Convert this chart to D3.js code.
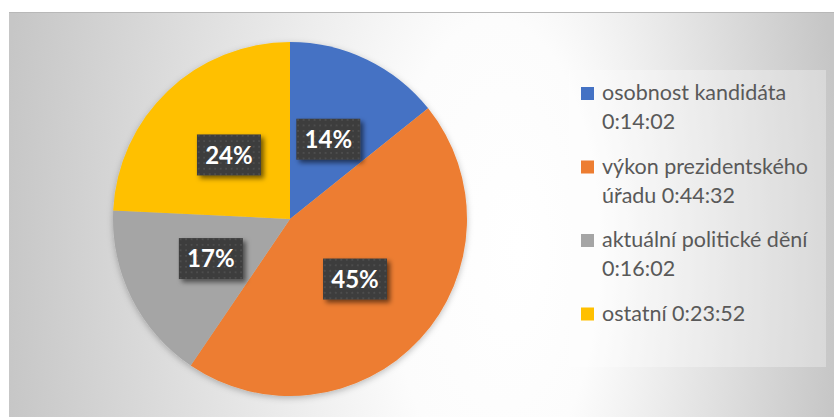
<!DOCTYPE html>
<html>
<head>
  <meta charset="utf-8">
  <style>
    body { margin: 0; background: white; }
    .legend-text { font-family: Lato, "Open Sans", sans-serif; font-size: 21.5px; fill: #595959; }
    .slice-label { font-family: Lato, "Open Sans", sans-serif; font-size: 24px; font-weight: bold; fill: white; }
  </style>
  <script src="https://d3js.org/d3.v7.min.js"></script>
</head>
<body>
  <div id="chart"></div>
  <script>
    // data
    const categories = ["osobnost kandidáta", "výkon prezidentského", "aktuální politické dění", "ostatní"];
    const durations = ["0:14:02", "0:44:32", "0:16:02", "0:23:52"];
    const seconds = [842, 2672, 962, 1432];
    const percentLabels = ["14%", "45%", "17%", "24%"];
    const colors = ["#4472C4", "#ED7D31", "#A5A5A5", "#FFC000"];
    // legend lines (text wrap as in the original)
    const legendLines = [
      ["osobnost kandidáta", "0:14:02"],
      ["výkon prezidentského", "úřadu 0:44:32"],
      ["aktuální politické dění", "0:16:02"],
      ["ostatní 0:23:52"]
    ];

    const width = 834;
    const height = 417;
    const area = { x: 9, y: 12, w: 825, h: 405 };
    const cx = 290, cy = 219, radius = 177;

    const svg = d3.select("#chart")
      .append("svg")
      .attr("width", width)
      .attr("height", height);

    const defs = svg.append("defs");

    // background gradient, white band in the middle, gray to the sides
    const bg = defs.append("radialGradient")
      .attr("id", "bgGrad")
      .attr("gradientUnits", "userSpaceOnUse")
      .attr("cx", 420).attr("cy", 250).attr("r", 420)
      .attr("fx", 520).attr("fy", 250)
      .attr("gradientTransform", "translate(0,250) scale(1,2.2) translate(0,-250)");
    bg.append("stop").attr("offset", 0).attr("stop-color", "#ffffff");
    bg.append("stop").attr("offset", 0.25).attr("stop-color", "#fcfcfc");
    bg.append("stop").attr("offset", 1).attr("stop-color", "#c6c6c6");

    // dotted texture for the label boxes
    const pat = defs.append("pattern")
      .attr("id", "dots")
      .attr("patternUnits", "userSpaceOnUse")
      .attr("width", 5.5).attr("height", 5.5);
    pat.append("rect").attr("width", 5.5).attr("height", 5.5).attr("fill", "#3d3d3d");
    pat.append("rect").attr("x", 2).attr("y", 2).attr("width", 1.5).attr("height", 1.5).attr("fill", "#545454");

    const shadow = defs.append("filter").attr("id", "boxShadow")
      .attr("x", "-30%").attr("y", "-30%").attr("width", "160%").attr("height", "160%");
    shadow.append("feDropShadow")
      .attr("dx", 3).attr("dy", 3).attr("stdDeviation", 2.5)
      .attr("flood-color", "#000").attr("flood-opacity", 0.55);

    const pieShadow = defs.append("filter").attr("id", "pieShadow")
      .attr("x", "-10%").attr("y", "-10%").attr("width", "120%").attr("height", "120%");
    pieShadow.append("feDropShadow")
      .attr("dx", 0).attr("dy", 2).attr("stdDeviation", 3)
      .attr("flood-color", "#000").attr("flood-opacity", 0.25);

    svg.append("rect")
      .attr("x", area.x).attr("y", area.y)
      .attr("width", area.w).attr("height", area.h)
      .attr("fill", "url(#bgGrad)");

    svg.append("line")
      .attr("x1", area.x).attr("x2", area.x + area.w)
      .attr("y1", area.y + 0.5).attr("y2", area.y + 0.5)
      .attr("stroke", "#b8b8b8");

    // pie
    const pie = d3.pie().sort(null).value(d => d);
    const arcs = pie(seconds);
    const arc = d3.arc().innerRadius(0).outerRadius(radius);

    const g = svg.append("g").attr("transform", `translate(${cx},${cy})`);

    g.append("g")
      .attr("filter", "url(#pieShadow)")
      .selectAll("path")
      .data(arcs)
      .enter()
      .append("path")
      .attr("d", arc)
      .attr("fill", (d, i) => colors[i]);

    const labels = g.selectAll(".lbl")
      .data(arcs)
      .enter()
      .append("g")
      .attr("class", "lbl")
      .attr("transform", d => `translate(${arc.centroid(d)})`);

    labels.append("rect")
      .attr("x", -32).attr("y", -20.5)
      .attr("width", 64).attr("height", 41)
      .attr("fill", "url(#dots)")
      .attr("filter", "url(#boxShadow)");

    labels.append("text")
      .attr("class", "slice-label")
      .attr("text-anchor", "middle")
      .attr("dy", "0.36em")
      .text((d, i) => percentLabels[i]);

    // legend
    const legend = svg.append("g");
    legend.append("rect")
      .attr("x", 569).attr("y", 70)
      .attr("width", 257).attr("height", 297)
      .attr("fill", "#ffffff").attr("fill-opacity", 0.3);

    const baseY = d3.scaleLinear().domain([0, 1]).range([100, 173.5]);
    const items = legend.selectAll(".item")
      .data(legendLines)
      .enter()
      .append("g")
      .attr("class", "item")
      .attr("transform", (d, i) => `translate(0,${baseY(i)})`);

    items.append("rect")
      .attr("x", 581).attr("y", -13)
      .attr("width", 13).attr("height", 13)
      .attr("fill", (d, i) => colors[i]);

    items.each(function(lines) {
      const t = d3.select(this).append("text")
        .attr("class", "legend-text")
        .attr("x", 602);
      lines.forEach((ln, j) => {
        t.append("tspan").attr("x", 602).attr("y", j * 29).text(ln);
      });
    });
  </script>
</body>
</html>
